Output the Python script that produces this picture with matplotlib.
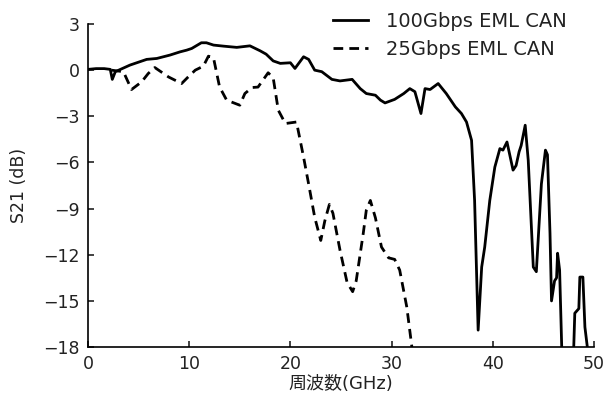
import matplotlib
matplotlib.use("Agg")
import matplotlib.pyplot as plt
import numpy as np

plt.rcParams['font.family'] = ['DejaVu Sans', 'Noto Sans CJK JP']

# 100Gbps EML CAN (solid)
f100 = [0.0, 0.8, 1.6, 2.2, 2.4, 2.7, 4.15, 5.8, 6.8, 8.1, 9.1, 9.75, 10.25, 11.2, 11.7,
        12.4, 13.4, 14.7, 16.0, 17.0, 17.6, 18.3, 19.0, 20.0, 20.45, 21.3, 21.8, 22.4,
        23.1, 24.1, 24.9, 26.1, 26.9, 27.5, 28.4, 28.9, 29.35, 30.3, 31.2, 31.8, 32.3,
        32.9, 33.3, 33.8, 34.6, 35.4, 36.3, 36.9, 37.4, 37.9, 38.2, 38.55, 38.9, 39.2,
        39.7, 40.2, 40.7, 41.0, 41.4, 42.0, 42.3, 42.6, 42.8, 43.2, 43.5, 44.0, 44.3,
        44.8, 45.2, 45.4, 45.65, 45.8, 46.1, 46.3, 46.4, 46.6, 46.85, 47.95, 48.1, 48.5,
        48.6, 48.9, 49.1, 49.45]
s100 = [0.05, 0.1, 0.1, 0.05, -0.6, -0.1, 0.33, 0.7, 0.76, 0.98, 1.19, 1.3, 1.41, 1.78, 1.78,
        1.63, 1.56, 1.48, 1.58, 1.26, 1.04, 0.6, 0.44, 0.48, 0.11, 0.87, 0.7, 0.0,
        -0.1, -0.6, -0.7, -0.6, -1.2, -1.52, -1.63, -1.95, -2.13, -1.9, -1.52, -1.2, -1.4,
        -2.82, -1.2, -1.26, -0.87, -1.52, -2.39, -2.82, -3.37, -4.56, -8.47, -16.9, -12.8, -11.5,
        -8.47, -6.3, -5.1, -5.2, -4.67, -6.5, -6.2, -5.3, -4.9, -3.58, -5.86, -12.8, -13.1,
        -7.4, -5.2, -5.5, -10.6, -15.0, -13.7, -13.5, -11.9, -13.0, -19.0, -19.0, -15.8, -15.5,
        -13.45, -13.45, -16.7, -18.6]

# 25Gbps EML CAN (dashed)
f25 = [2.3, 3.5, 4.3, 5.3, 5.95, 6.6, 7.95, 9.25, 9.9, 10.6, 11.4, 11.9, 12.4, 13.0, 13.7,
       15.0, 15.5, 16.2, 16.8, 17.8, 18.3, 18.8, 19.5, 20.6, 21.3, 21.8, 22.4, 23.0, 23.4,
       23.85, 24.2, 24.9, 25.6, 26.15, 26.5, 27.2, 27.5, 27.9, 28.4, 29.0, 29.7, 30.3,
       30.8, 31.5, 32.1]
s25 = [0.0, -0.1, -1.26, -0.76, -0.22, 0.17, -0.44, -0.87, -0.44, 0.0, 0.26, 0.91, 0.8, -1.09, -1.95,
       -2.28, -1.52, -1.13, -1.1, -0.17, -0.5, -2.6, -3.47, -3.37, -5.65, -7.4, -9.56, -11.07, -9.8,
       -8.73, -9.3, -11.7, -13.8, -14.4, -13.7, -10.6, -9.1, -8.47, -9.6, -11.5, -12.2, -12.3,
       -13.0, -15.4, -18.5]

xticks = [0, 10, 20, 30, 40, 50]
yticks = [3, 0, -3, -6, -9, -12, -15, -18]
ytick_labels = ['3', '0', '\u22123', '\u22126', '\u22129', '\u221212', '\u221215', '\u221218']

fig = plt.figure(figsize=(6.09, 3.98), dpi=100)
ax = fig.add_axes([0.1445, 0.128, 0.8309, 0.8117])

ax.plot(f100, s100, color='black', lw=2.0, label='100Gbps EML CAN', solid_joinstyle='round')
ax.plot(f25, s25, color='black', lw=2.0, ls=(0, (3.5, 2.2)), label='25Gbps EML CAN')

ax.set_xlim(0, 50)
ax.set_ylim(-18, 3)
ax.set_xticks(xticks)
ax.set_yticks(yticks)
ax.set_yticklabels(ytick_labels)

for s in ['top', 'right']:
    ax.spines[s].set_visible(False)
for s in ['left', 'bottom']:
    ax.spines[s].set_linewidth(1.2)
ax.tick_params(direction='in', length=4, width=1.2, labelsize=12.5, colors='#222222')
ax.tick_params(axis='x', pad=6)
ax.tick_params(axis='y', pad=6)

ax.set_xlabel('周波数(GHz)', fontsize=13, labelpad=1, color='#222222')
ax.set_ylabel('S21 (dB)', fontsize=12.5, labelpad=11, color='#222222')

leg = ax.legend(loc='upper left', bbox_to_anchor=(333 / 609, 1 - 12 / 398),
                bbox_transform=fig.transFigure, frameon=False, fontsize=14,
                borderpad=0, borderaxespad=0,
                handlelength=1.8, handletextpad=0.9, labelspacing=0.45)
for t in leg.get_texts():
    t.set_color('#222222')

fig.savefig('out.png', dpi=100)
